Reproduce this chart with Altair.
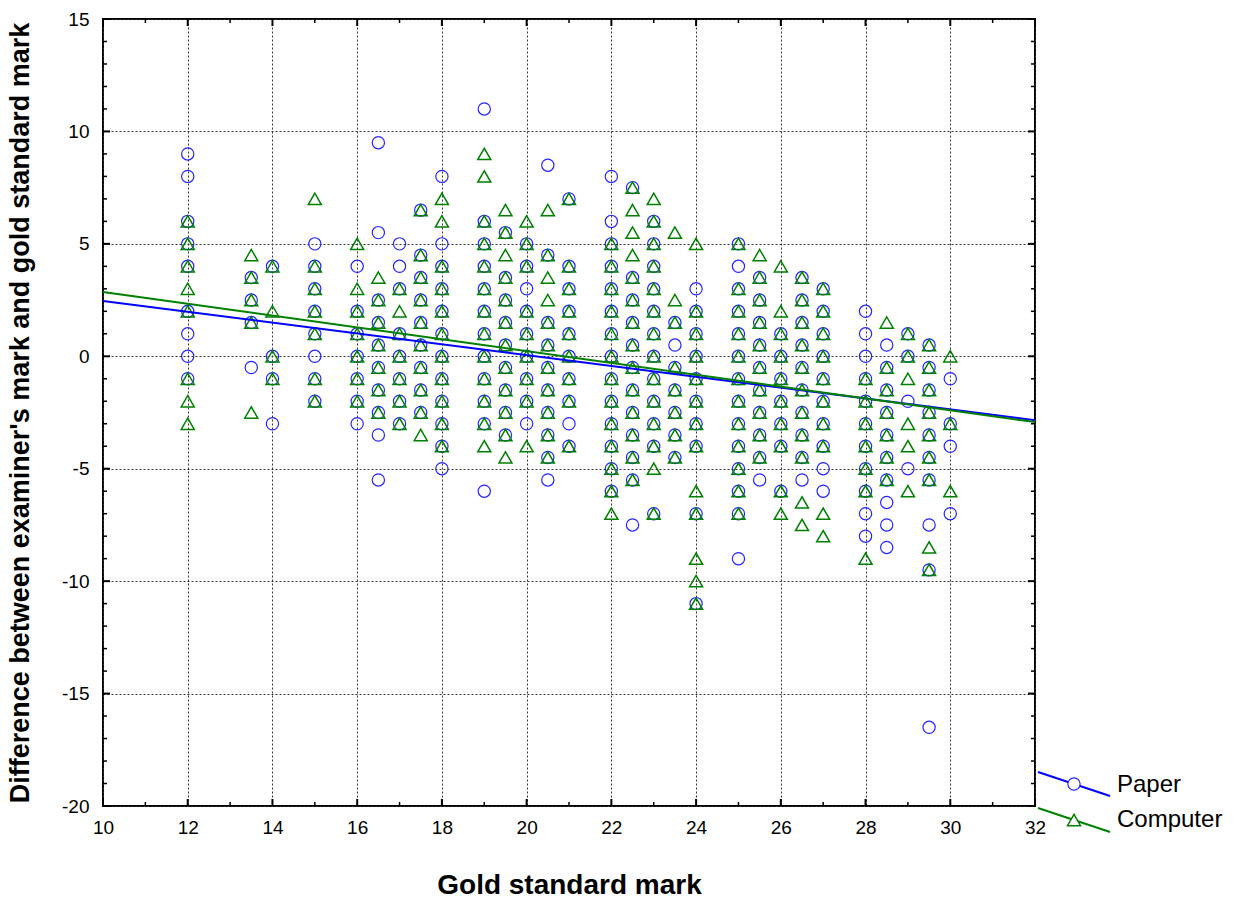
import altair as alt
import pandas as pd

# ---------------- data ----------------
gold_marks = [12, 13.5, 14, 15, 16, 16.5, 17, 17.5, 18, 19, 19.5, 20, 20.5, 21,
              22, 22.5, 23, 23.5, 24, 25, 25.5, 26, 26.5, 27, 28, 28.5, 29, 29.5, 30]

paper_diff = [
    [9, 8, 6, 5, 4, 2, 1, 0, -1],                                   # 12
    [3.5, 2.5, 1.5, -0.5],                                          # 13.5
    [4, 0, -1, -3],                                                 # 14
    [5, 4, 3, 2, 1, 0, -1, -2],                                     # 15
    [4, 2, 1, 0, -1, -2, -3],                                       # 16
    [9.5, 5.5, 2.5, 1.5, 0.5, -0.5, -1.5, -2.5, -3.5, -5.5],        # 16.5
    [5, 4, 3, 1, 0, -1, -2, -3],                                    # 17
    [6.5, 4.5, 3.5, 2.5, 1.5, 0.5, -0.5, -1.5, -2.5],               # 17.5
    [8, 5, 4, 3, 2, 1, 0, -1, -2, -3, -4, -5],                      # 18
    [11, 6, 5, 4, 3, 2, 1, 0, -1, -2, -3, -6],                      # 19
    [5.5, 3.5, 2.5, 1.5, 0.5, -0.5, -1.5, -2.5, -3.5],              # 19.5
    [5, 4, 3, 2, 1, 0, -1, -2, -3],                                 # 20
    [8.5, 4.5, 1.5, 0.5, -0.5, -1.5, -2.5, -3.5, -4.5, -5.5],       # 20.5
    [7, 4, 3, 2, 1, 0, -1, -2, -3, -4],                             # 21
    [8, 6, 5, 4, 3, 2, 1, 0, -1, -2, -3, -4, -5, -6],               # 22
    [7.5, 3.5, 2.5, 1.5, 0.5, -0.5, -1.5, -2.5, -3.5, -4.5, -5.5, -7.5],  # 22.5
    [6, 5, 4, 3, 2, 1, 0, -1, -2, -3, -4, -7],                      # 23
    [1.5, 0.5, -0.5, -1.5, -2.5, -3.5, -4.5],                       # 23.5
    [3, 2, 1, 0, -1, -2, -3, -4, -7, -11],                          # 24
    [5, 4, 3, 2, 1, 0, -1, -2, -3, -4, -5, -6, -7, -9],             # 25
    [3.5, 2.5, 1.5, 0.5, -0.5, -1.5, -2.5, -3.5, -4.5, -5.5],       # 25.5
    [1, 0, -1, -2, -3, -4, -6],                                     # 26
    [3.5, 2.5, 1.5, 0.5, -0.5, -1.5, -2.5, -3.5, -4.5, -5.5],       # 26.5
    [3, 2, 1, 0, -1, -2, -3, -4, -5, -6],                           # 27
    [2, 1, 0, -1, -2, -3, -4, -5, -6, -7, -8],                      # 28
    [0.5, -0.5, -1.5, -2.5, -3.5, -4.5, -5.5, -6.5, -7.5, -8.5],    # 28.5
    [1, 0, -2, -5],                                                 # 29
    [0.5, -0.5, -1.5, -2.5, -3.5, -4.5, -5.5, -7.5, -9.5, -16.5],   # 29.5
    [-1, -3, -4, -7],                                               # 30
]

computer_diff = [
    [6, 5, 4, 3, 2, -1, -2, -3],                                    # 12
    [4.5, 3.5, 2.5, 1.5, -2.5],                                     # 13.5
    [4, 2, 0, -1],                                                  # 14
    [7, 4, 3, 2, 1, -1, -2],                                        # 15
    [5, 3, 2, 1, 0, -1, -2],                                        # 16
    [3.5, 2.5, 1.5, 0.5, -0.5, -1.5, -2.5],                         # 16.5
    [3, 2, 1, 0, -1, -2, -3],                                       # 17
    [6.5, 4.5, 3.5, 2.5, 1.5, 0.5, -0.5, -1.5, -2.5, -3.5],         # 17.5
    [7, 6, 4, 3, 2, 1, 0, -1, -2, -3, -4],                          # 18
    [9, 8, 6, 5, 4, 3, 2, 1, 0, -1, -2, -3, -4],                    # 19
    [6.5, 5.5, 4.5, 3.5, 2.5, 1.5, 0.5, -0.5, -1.5, -2.5, -3.5, -4.5],  # 19.5
    [6, 5, 4, 2, 1, 0, -1, -2, -4],                                 # 20
    [6.5, 4.5, 3.5, 2.5, 1.5, 0.5, -0.5, -1.5, -2.5, -3.5, -4.5],   # 20.5
    [7, 4, 3, 2, 1, 0, -1, -2, -4],                                 # 21
    [5, 4, 3, 2, 1, 0, -1, -2, -3, -4, -5, -6, -7],                 # 22
    [7.5, 6.5, 5.5, 4.5, 3.5, 2.5, 1.5, 0.5, -0.5, -1.5, -2.5, -3.5, -4.5, -5.5],  # 22.5
    [7, 6, 5, 4, 3, 2, 1, 0, -1, -2, -3, -4, -5, -7],               # 23
    [5.5, 2.5, 1.5, -0.5, -1.5, -2.5, -3.5, -4.5],                  # 23.5
    [5, 2, 1, 0, -1, -2, -3, -4, -6, -7, -9, -10, -11],             # 24
    [5, 3, 2, 1, 0, -1, -2, -3, -4, -5, -6, -7],                    # 25
    [4.5, 3.5, 2.5, 1.5, 0.5, -0.5, -1.5, -2.5, -3.5, -4.5],        # 25.5
    [4, 2, 1, 0, -1, -2, -3, -4, -6, -7],                           # 26
    [3.5, 2.5, 1.5, 0.5, -0.5, -1.5, -2.5, -3.5, -4.5, -6.5, -7.5], # 26.5
    [3, 2, 1, 0, -1, -2, -3, -4, -7, -8],                           # 27
    [-1, -2, -3, -4, -5, -6, -9],                                   # 28
    [1.5, -0.5, -1.5, -2.5, -3.5, -4.5, -5.5],                      # 28.5
    [1, 0, -1, -3, -4, -6],                                         # 29
    [0.5, -0.5, -1.5, -2.5, -3.5, -4.5, -5.5, -8.5, -9.5],          # 29.5
    [0, -3, -6],                                                    # 30
]

# fitted regression lines: intercept, slope
fit_x = [10, 32]
paper_fit = [4.87, -0.241]
computer_fit = [5.49, -0.263]

series_names = ["Paper", "Computer"]
x_ticks = list(range(10, 33, 2))
y_ticks = list(range(-20, 16, 5))
x_minor = list(range(10, 33))
y_minor = list(range(-20, 16))

# ---------------- build tables ----------------
def long_table(diffs):
    rows = []
    for g, ds in zip(gold_marks, diffs):
        for d in ds:
            rows.append({"gold": g, "diff": d})
    return pd.DataFrame(rows)

df_paper = long_table(paper_diff)
df_comp = long_table(computer_diff)
df_pfit = pd.DataFrame({"gold": fit_x, "diff": [paper_fit[0] + paper_fit[1] * x for x in fit_x]})
df_cfit = pd.DataFrame({"gold": fit_x, "diff": [computer_fit[0] + computer_fit[1] * x for x in fit_x]})

W, H = 932, 787
FONT = "Liberation Sans"
BLUE = "#2525ff"
BLUE_LINE = "#0000ff"
GREEN = "#008000"

xs = alt.Scale(domain=[10, 32], nice=False, zero=False)
ys = alt.Scale(domain=[-20, 15], nice=False, zero=False)

x_axis = alt.Axis(values=x_ticks, grid=True, gridDash=[2, 2], gridColor="#333333", gridWidth=1,
                  ticks=False, tickSize=0, domain=False, labelFlush=False,
                  labelExpr="toString(datum.value)",
                  labelFont=FONT, labelFontSize=19, labelColor="black", labelPadding=12,
                  title="Gold standard mark", titleFont=FONT, titleFontSize=28,
                  titleFontWeight="bold", titleColor="black", titleY=79, titleBaseline="middle")
y_axis = alt.Axis(values=y_ticks, grid=True, gridDash=[2, 2], gridColor="#333333", gridWidth=1,
                  ticks=False, tickSize=0, domain=False, labelFlush=False,
                  labelExpr="toString(datum.value)",
                  labelFont=FONT, labelFontSize=19, labelColor="black", labelPadding=14,
                  title="Difference between examiner's mark and gold standard mark",
                  titleFont=FONT, titleFontSize=27, titleFontWeight="bold", titleColor="black",
                  titleX=-83, titleY=H / 2, titleAngle=270, titleBaseline="middle", titleAlign="center")


def X(field):
    return alt.X(field, scale=xs, axis=x_axis)


def Y(field):
    return alt.Y(field, scale=ys, axis=y_axis)


paper_pts = alt.Chart(df_paper).mark_point(shape="circle", filled=False, size=150, color=BLUE,
                                           strokeWidth=1.2, opacity=1).encode(
    x=X("gold:Q"), y=Y("diff:Q"))
comp_pts = alt.Chart(df_comp).mark_point(shape="triangle-up", filled=False, size=170, color=GREEN,
                                         strokeWidth=1.5, opacity=1).encode(
    x=X("gold:Q"), y=Y("diff:Q"))
paper_line = alt.Chart(df_pfit).mark_line(color=BLUE_LINE, strokeWidth=2).encode(
    x=X("gold:Q"), y=Y("diff:Q"))
comp_line = alt.Chart(df_cfit).mark_line(color=GREEN, strokeWidth=2).encode(
    x=X("gold:Q"), y=Y("diff:Q"))


# inward tick marks on all four sides
def yticks(vals, length, width):
    d = pd.DataFrame({"diff": vals})
    left = alt.Chart(d).mark_rule(color="black", strokeWidth=width).encode(
        y=Y("diff:Q"), x=alt.value(0), x2=alt.value(length))
    right = alt.Chart(d).mark_rule(color="black", strokeWidth=width).encode(
        y=Y("diff:Q"), x=alt.value(W), x2=alt.value(W - length))
    return [left, right]


def xticks(vals, length, width):
    d = pd.DataFrame({"gold": vals})
    bottom = alt.Chart(d).mark_rule(color="black", strokeWidth=width).encode(
        x=X("gold:Q"), y=alt.value(H), y2=alt.value(H - length))
    top = alt.Chart(d).mark_rule(color="black", strokeWidth=width).encode(
        x=X("gold:Q"), y=alt.value(0), y2=alt.value(length))
    return [bottom, top]


tick_layers = (yticks([v for v in y_minor if v % 5 != 0], 4, 1.5) + yticks(y_ticks, 7, 2)
               + xticks([v for v in x_minor if v % 2 != 0], 4, 1.5) + xticks(x_ticks, 7, 2))

# manual legend outside the plot area (right, bottom)
one = pd.DataFrame({"label": [series_names[0]]})
two = pd.DataFrame({"label": [series_names[1]]})
leg = [
    alt.Chart(one).mark_rule(color=BLUE_LINE, strokeWidth=2).encode(
        x=alt.value(935), x2=alt.value(1007), y=alt.value(753), y2=alt.value(777)),
    alt.Chart(one).mark_point(shape="circle", filled=True, fill="white", size=150, color=BLUE,
                              stroke=BLUE, strokeWidth=1.2, opacity=1).encode(
        x=alt.value(971), y=alt.value(765)),
    alt.Chart(one).mark_text(align="left", baseline="middle", font=FONT, fontSize=24, color="black").encode(
        x=alt.value(1014), y=alt.value(766), text="label:N"),
    alt.Chart(two).mark_rule(color=GREEN, strokeWidth=2).encode(
        x=alt.value(935), x2=alt.value(1007), y=alt.value(789), y2=alt.value(813)),
    alt.Chart(two).mark_point(shape="triangle-up", filled=True, fill="white", size=170, color=GREEN,
                              stroke=GREEN, strokeWidth=1.5, opacity=1).encode(
        x=alt.value(971), y=alt.value(801)),
    alt.Chart(two).mark_text(align="left", baseline="middle", font=FONT, fontSize=24, color="black").encode(
        x=alt.value(1014), y=alt.value(801), text="label:N"),
]

chart = alt.layer(paper_pts, comp_pts, paper_line, comp_line, *tick_layers, *leg).properties(
    width=W, height=H,
    autosize=alt.AutoSizeParams(type="none"),
    padding={"left": 103, "top": 19, "right": 208, "bottom": 97},
    background="white",
).configure_view(stroke="black", strokeWidth=2)

chart.save("out.html", embed_options={"renderer": "svg", "actions": False})
